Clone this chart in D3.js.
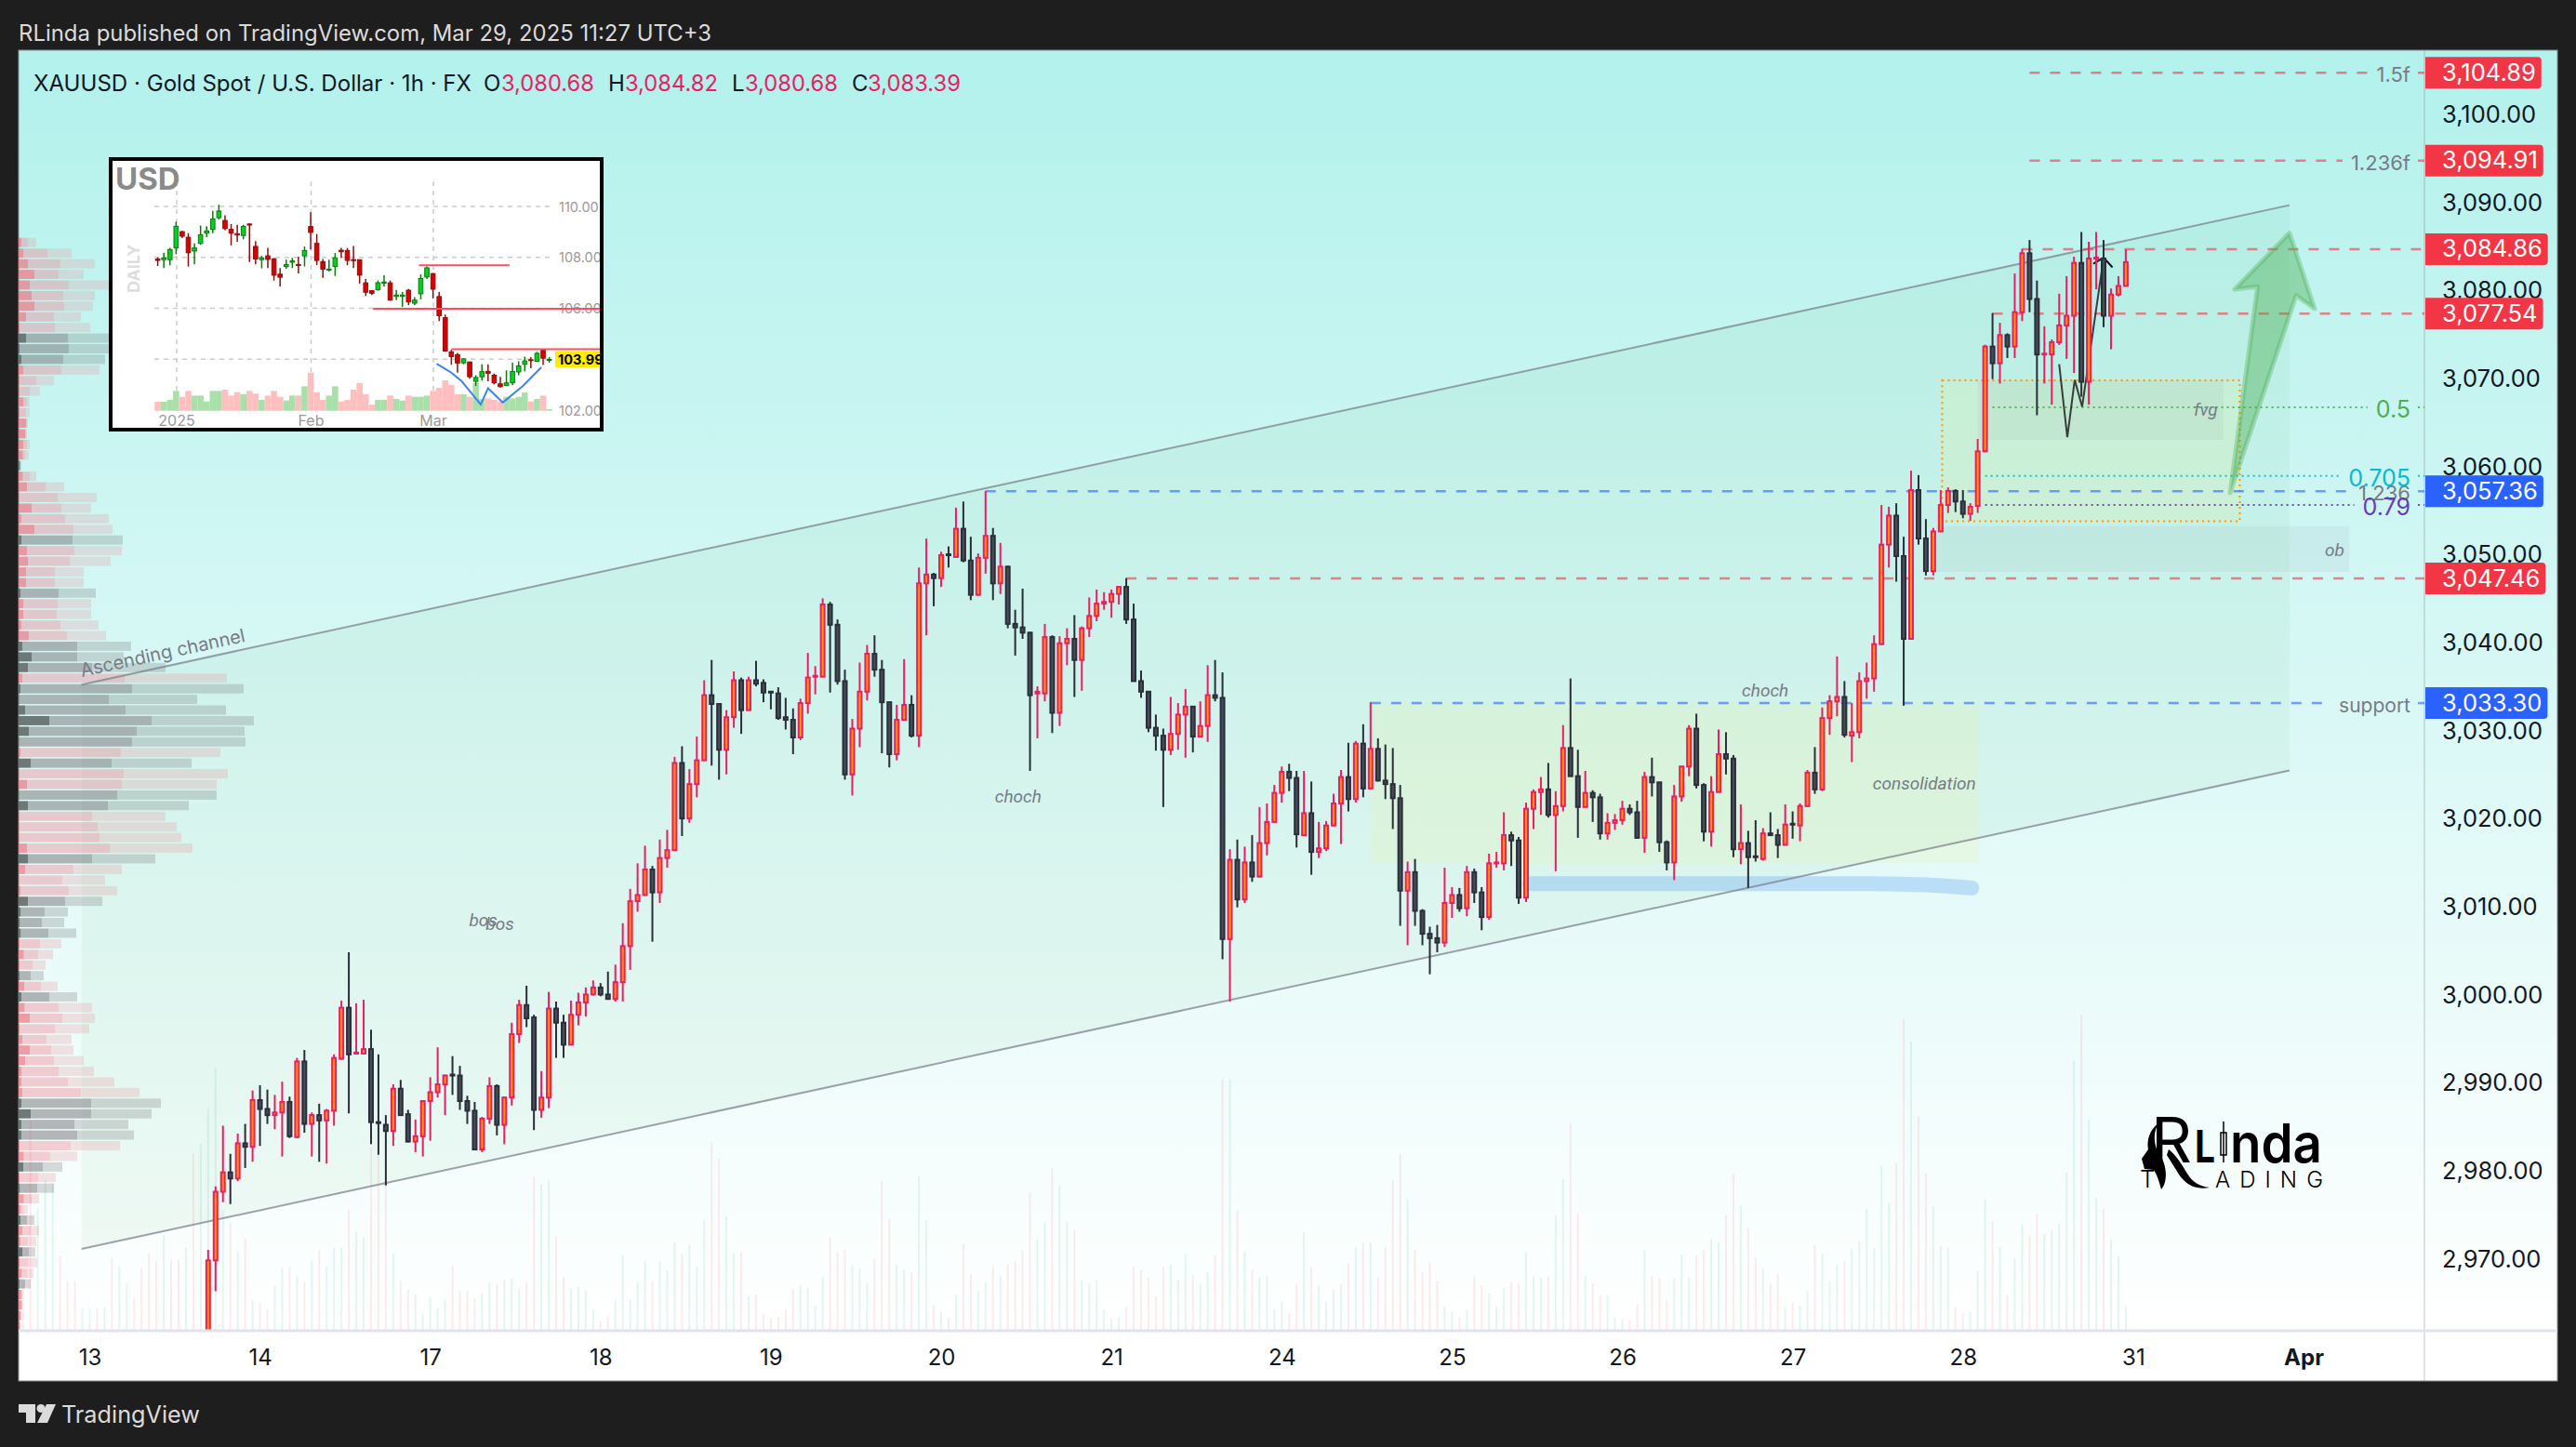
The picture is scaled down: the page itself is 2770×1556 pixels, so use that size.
<!DOCTYPE html>
<html>
<head>
<meta charset="utf-8">
<title>XAUUSD 1h</title>
<script src="https://cdn.jsdelivr.net/npm/d3@7/dist/d3.min.js"></script>
<style>
html, body { margin: 0; padding: 0; background: #1e1e1e; }
svg { display: block; }
text { font-family: Inter, "Noto Sans", sans-serif; }
.note { font-family: Roboto, sans-serif; font-style: italic; fill: #787b86; }
</style>
</head>
<body>
<div id="chart"></div>
<script>
// open, high, low, close of every hourly bar, first bar opens below the visible range
const candles = [
[2955,2971.2,2950,2970],[2970,2978.4,2966.5,2977.8],[2977.8,2985.3,2976.6,2980],[2980,2982.1,2976.4,2979.3],[2979.3,2984.4,2979,2983.3],
[2983.3,2985.5,2980.5,2982.9],[2982.9,2989.3,2981.2,2988.2],[2988.2,2989.9,2983,2987.2],[2987.2,2989.4,2985.5,2986.5],[2986.5,2988.8,2984.9,2986.8],
[2986.8,2990.3,2981.8,2988],[2988,2988.6,2983.9,2984.1],[2984,2993,2983.9,2992.6],[2992.6,2993.9,2984.5,2985.5],[2985.5,2986.8,2981.8,2986.5],
[2986.5,2987.8,2981.2,2985.9],[2985.9,2987.2,2981,2987],[2987,2993.4,2985.3,2993],[2992.9,2999.5,2992.8,2998.7],[2998.7,3005,2986.7,2993.4],
[2993.5,2999.2,2993.4,2993.6],[2993.5,2999.6,2993.4,2994],[2994,2996.2,2983.2,2985.7],[2985.7,2993.4,2982,2985.6],[2985.4,2986.5,2978.5,2984.7],
[2984.7,2990,2983,2989.5],[2989.5,2990.5,2986.5,2986.5],[2986.6,2987.1,2983.4,2983.5],[2983.5,2986,2982.3,2984.1],[2984.1,2988.1,2981.8,2988.1],
[2988.1,2990.8,2983.6,2989.1],[2989.1,2994.2,2988.5,2990],[2990,2991.1,2986.5,2991],[2991.1,2993.2,2988.8,2991],[2991,2992.1,2987.1,2988.1],
[2988.1,2988.7,2985.5,2987],[2987,2988,2982.5,2982.6],[2982.6,2986.3,2982.3,2986.1],[2986.1,2990.8,2985.5,2989.8],[2989.8,2990,2984.2,2985.4],
[2985.4,2988.6,2983.2,2988.5],[2988.5,2997,2987.6,2995.7],[2995.7,2999.6,2994.7,2999],[2999,3001.2,2996.5,2997.5],[2997.6,2997.9,2984.8,2987.1],
[2987.1,2991.5,2986.2,2988.5],[2988.5,3000.5,2987.3,2998.6],[2998.6,2999.4,2993,2997],[2997,2997.9,2993,2994.5],[2994.5,2999.5,2994.5,2997.9],
[2997.9,3000.4,2996.7,2999.3],[2999.3,3001,2997.7,3000.2],[3000.2,3001.8,3000.1,3001],[3001,3001.5,3000,3000.2],[3000.2,3002.8,2999.6,2999.7],
[2999.7,3003.6,2999.4,3001.6],[3001.6,3008.3,2999.4,3005.7],[3005.7,3012.2,3003,3010.8],[3010.8,3015.1,3009.6,3011.5],[3011.5,3017.1,3011.4,3014.4],
[3014.4,3014.8,3006.2,3011.8],[3011.8,3017.8,3010.6,3015.7],[3015.7,3018.9,3014.6,3016.6],[3016.6,3027.2,3016.5,3026.5],[3026.5,3028.4,3018.2,3020.2],
[3020.2,3025.8,3019.7,3024.1],[3024.1,3029.5,3022.6,3026.8],[3026.8,3035.9,3026.8,3034.2],[3034.2,3038.2,3026.2,3033.2],[3033.2,3033.2,3024.6,3028],
[3028,3032.5,3025.2,3031.7],[3031.7,3036.9,3030.5,3035.9],[3035.9,3036.2,3029.8,3032.5],[3032.5,3036.3,3032.5,3035.9],[3035.9,3038.1,3035.2,3035.5],
[3035.6,3036,3033.4,3034.5],[3034.6,3034.6,3032.6,3034.5],[3034.4,3035.1,3031.4,3031.6],[3031.7,3033.9,3030.3,3031.4],[3031.4,3032.7,3027.5,3029.4],
[3029.4,3033.8,3029.1,3033.3],[3033.3,3039,3032.1,3036.2],[3036.3,3037.5,3034.3,3036.4],[3036.3,3045.2,3036.3,3044.5],[3044.5,3044.8,3034.5,3042.2],
[3042.2,3042.8,3035.4,3035.8],[3035.8,3037.1,3024.6,3025.2],[3025.2,3031.5,3022.8,3030.4],[3030.4,3037.9,3028.3,3034.6],[3034.6,3039.9,3033.6,3038.9],
[3038.9,3041,3036.3,3037.1],[3037.1,3038.2,3027.6,3033.4],[3033.4,3033.4,3026,3027.5],[3027.5,3033.1,3026.8,3031.4],[3031.4,3038.3,3031.4,3033.1],
[3033.1,3034.2,3029.4,3029.6],[3029.6,3048.7,3028.3,3046.9],[3046.9,3052,3041,3047.9],[3047.9,3048.1,3044.3,3047.5],[3047.5,3050.5,3046.5,3050.1],
[3050.2,3051.1,3048.7,3050.1],[3049.9,3055.5,3049.9,3053.1],[3053.1,3056.2,3049.3,3049.5],[3049.5,3052.2,3045,3045.6],[3045.6,3050.3,3045.5,3049.8],
[3049.8,3057.4,3048,3052.3],[3052.3,3053.2,3045,3046.9],[3046.9,3051.5,3045.7,3048.8],[3048.8,3048.9,3041.8,3042.3],[3042.3,3043.9,3038.7,3041.9],
[3041.9,3046.3,3040.6,3041.3],[3041.3,3041.4,3025.6,3034.2],[3034.4,3035.2,3029.3,3034.6],[3034.4,3042.3,3033.5,3040.8],[3040.8,3041,3029.9,3032.2],
[3032.2,3040.9,3030.7,3040.1],[3040.1,3041.8,3037.6,3040.6],[3040.6,3043.3,3034,3038.2],[3038.2,3042,3034.7,3041.8],[3041.8,3045.3,3040.8,3043.2],
[3043.2,3046.2,3042.6,3044.6],[3044.6,3045.9,3043.9,3044.8],[3044.8,3046.2,3043,3045.7],[3045.7,3046.6,3044.5,3046.5],[3046.5,3047.5,3042.3,3042.8],
[3042.8,3044.6,3035.8,3035.8],[3035.8,3037,3033.9,3034.6],[3034.6,3034.6,3030,3030.5],[3030.5,3032,3027.9,3029.6],[3029.6,3030.4,3021.5,3028],
[3028,3034,3027.4,3029.8],[3029.8,3033.3,3028,3032],[3032,3034.9,3027.1,3032.9],[3032.9,3032.9,3027.7,3029.5],[3029.5,3033.5,3029.5,3030.7],
[3030.7,3037.6,3028.9,3034.2],[3034.2,3038.2,3033.5,3033.9],[3033.9,3036.8,3004.2,3006.5],[3006.5,3016.7,2999.4,3015.5],[3015.5,3017.8,3010.1,3011],
[3011,3017,3010.6,3015.2],[3015.2,3018.3,3013,3013.6],[3013.6,3021.5,3013.5,3017.4],[3017.4,3021.9,3016,3019.8],[3019.8,3024,3019.8,3023.1],
[3023.1,3026.1,3022,3025.5],[3025.5,3026.4,3023.3,3024.8],[3024.8,3025.6,3016.9,3018.4],[3018.3,3025.6,3018.2,3020.8],[3020.8,3024.4,3013.8,3016.4],
[3016.4,3019.8,3015.7,3016.8],[3016.8,3019.9,3016.5,3019.4],[3019.4,3023,3019.3,3021.9],[3021.9,3025.7,3017.3,3024.9],[3024.9,3028.8,3021,3022.4],
[3022.4,3029,3022,3028.7],[3028.7,3030.9,3022.6,3023.6],[3023.6,3033.4,3023.6,3028.1],[3028.1,3029.3,3024.4,3024.5],[3024.5,3028.6,3022.4,3024.1],
[3024.1,3028.2,3019,3022.5],[3022.5,3024,3008,3012],[3012,3015.3,3005.8,3014.1],[3014.1,3015.6,3008,3009.7],[3009.7,3009.9,3005.8,3007.1],
[3007.1,3007.9,3002.5,3006.6],[3006.6,3008.1,3005,3006.1],[3006.1,3014.6,3005.6,3010.6],[3010.6,3012.4,3008.9,3011.5],[3011.5,3012.3,3009.6,3010],
[3010,3014.8,3009.1,3014.1],[3014.1,3014.5,3010.6,3011.8],[3011.8,3012.4,3007.5,3009],[3009,3016.2,3008.7,3015.1],[3015.1,3016.4,3014.6,3015.2],
[3015.1,3020.9,3014.3,3018.3],[3018.3,3018.7,3014.8,3017.7],[3017.7,3018.1,3010.5,3011.2],[3011.2,3022,3010.7,3021.3],[3021.3,3023.5,3019,3023.2],
[3023.2,3024.9,3020.6,3023.5],[3023.5,3026.5,3020.3,3020.6],[3020.6,3023.3,3014.2,3021.6],[3021.6,3030.8,3021,3028.2],[3028.2,3036.1,3025,3025],
[3025,3028,3018,3021.5],[3021.5,3025.6,3021.5,3023.1],[3023.1,3023.4,3019.8,3022.6],[3022.6,3023,3017.8,3018.5],[3018.5,3020.8,3017.8,3019.7],
[3019.7,3020.7,3018.9,3020],[3020,3022.2,3019.5,3021.3],[3021.3,3021.8,3020.6,3020.9],[3020.9,3022.2,3017.9,3018],[3018,3025.5,3016.3,3024.9],
[3024.9,3027.1,3022.7,3024.3],[3024.3,3024.3,3016.4,3017.5],[3017.5,3017.7,3014.3,3015.2],[3015.2,3024,3013.2,3022.7],[3022.7,3026.1,3022.1,3026.1],
[3026.1,3030.8,3025,3030.4],[3030.4,3032.1,3023.6,3024],[3024,3024.2,3017.6,3018.7],[3018.7,3025,3017,3023.2],[3023.2,3030.3,3023.2,3027.5],
[3027.5,3030,3025.2,3027],[3027,3027.4,3015.8,3016.7],[3016.7,3021.8,3015,3017.4],[3017.4,3018.8,3012.3,3015.8],[3015.9,3020,3015.3,3015.8],
[3015.6,3019.1,3015.4,3018.5],[3018.5,3020.9,3018.2,3018.3],[3018.3,3019,3015.7,3017.2],[3017.2,3021.8,3017.2,3019.5],[3019.6,3021,3017.9,3019.5],
[3019.4,3021.9,3017.6,3021.6],[3021.6,3025.7,3021.6,3025.4],[3025.4,3028.3,3023,3023.5],[3023.5,3032.8,3023.3,3031.6],[3031.6,3034.2,3029.7,3033.5],
[3033.5,3038.6,3031.8,3034],[3034,3035.8,3029.4,3029.7],[3029.6,3033.3,3026.6,3030],[3030,3036.8,3029.3,3035.8],[3035.8,3037.9,3033.8,3036.1],
[3036.1,3041,3034.6,3040],[3040,3055.8,3039.9,3051.3],[3051.3,3055.6,3048.7,3054.6],[3054.6,3056,3047.1,3050],[3050,3052.2,3033,3040.6],
[3040.6,3059.7,3040.6,3057.5],[3057.5,3059.2,3051.3,3052],[3052,3054.2,3047.8,3048.3],[3048.3,3053.2,3047.8,3052.8],[3052.8,3057.5,3052.8,3055.8],
[3055.8,3057.8,3054.9,3057.4],[3057.4,3057.6,3055,3056.2],[3056.2,3057.5,3054.3,3054.8],[3054.8,3056,3054,3055.6],[3055.7,3063.3,3054.9,3061.9],
[3061.9,3074,3061.8,3073.8],[3073.8,3077.6,3070.1,3071.9],[3071.9,3076.5,3069.6,3075.1],[3075.1,3075.3,3072.5,3073.8],[3073.8,3082.1,3072.5,3077.7],
[3077.7,3084.9,3076.7,3084.4],[3084.4,3085.9,3077.7,3079.2],[3079.2,3081.3,3066,3072.9],[3072.9,3076.1,3069.6,3073],[3072.9,3074.6,3067.2,3074.3],
[3074.3,3079.8,3074,3076.2],[3076.2,3081.8,3072.4,3077.3],[3077.3,3084,3070.8,3083.3],[3083.3,3086.8,3068.1,3069.8],[3069.8,3085.7,3067.2,3083.8],
[3083.8,3086.8,3080.3,3083.9],[3083.8,3085.9,3076,3077.3],[3077.3,3080.4,3073.5,3079.7],[3079.7,3081.8,3079.5,3080.68],[3080.68,3084.82,3080.68,3083.39]
];

// volume per bar, starts 25 bars before the first candle
const volumes = [
52,226,131,162,158,80,53,53,24,23,24,25,78,69,50,35,67,83,75,102,75,76,89,190,201,
238,282,128,116,84,99,32,30,23,48,67,68,59,52,75,86,69,89,89,130,106,100,196,189,158,
83,54,44,39,18,36,24,33,70,43,43,35,40,52,49,54,56,45,52,166,157,162,101,57,45,
47,43,23,10,14,33,81,33,52,74,52,75,64,95,82,92,68,118,202,185,123,83,84,37,39,
18,12,15,22,44,49,45,27,58,100,84,87,70,67,51,77,161,120,71,65,62,166,119,27,20,
13,38,93,61,43,52,70,59,71,75,86,148,98,116,174,156,116,108,54,51,54,22,12,15,25,
69,65,57,37,68,71,55,83,60,51,62,81,270,270,129,84,65,57,59,23,31,19,49,105,68,
48,30,44,49,72,89,95,95,57,89,161,190,141,87,63,73,53,26,20,14,22,58,48,40,26,
46,52,50,84,58,57,58,124,163,222,126,59,51,37,38,14,12,11,28,86,59,56,33,56,81,
57,80,87,98,94,124,168,134,110,78,66,51,61,24,30,27,42,92,83,53,71,74,88,96,131,
89,177,137,180,335,311,230,169,133,91,89,25,19,20,64,141,117,90,38,78,114,101,125,104,108,
115,170,290,340,226,143,131,97,80,26
];
// 1 = teal, 0 = pink, for the 25 bars that have no candle on screen
const earlyVolumeUp = [0,0,1,1,1,0,0,0,1,1,0,1,0,1,1,0,0,0,0,1,0,0,1,0,1];

// visible range volume profile, top row first: inner, middle and outer edge of each row
const profileRows = [
[3,10,19],[5,31,57],[10,45,82],[17,43,70],[12,54,98],[14,48,82],[17,49,80],[8,38,67],[1,39,77],[8,53,98],
[1,54,98],[3,48,93],[5,46,87],[1,19,38],[1,12,23],[5,9,12],[1,8,12],[8,9,10],[7,8,9],[5,9,12],
[4.5,7,11],[1,2,3],[4.5,12,19],[9,29,49],[0.5,42,84],[14,46,78],[3,50,97],[17,59,101],[3,58,112],[9,60,111],
[10,55,99],[8,39,70],[8,39,70],[2,43,83],[5,42,78],[5,41,78],[3,45,86],[11,52,94],[4,63,121],[14,63,113],
[10,79,158],[4,114,224],[2,122,242],[0.5,97,192],[7,115,223],[33,143,253],[11,127,243],[0.5,122,244],[2,110,217],[13,100,186],
[0.5,113,225],[9,111,213],[0.5,106,213],[10,96,183],[0.5,79,158],[0.5,85,170],[0.5,87,175],[9,98,187],[10,79,147],[7,59,111],
[0.5,47,93],[2,54,106],[10,50,90],[2.4,28,53],[1.4,25,49],[2.4,32,62],[1,23,46],[5.5,21,37],[1,15,29],[1,13,27],
[6,24,42],[3,33,63],[6.5,43,79],[12,47,82],[1,39,76],[4,30,57],[12,35,59],[7,38,70],[3,43,81],[3,53,103],
[4,67,130],[3,78,153],[13,78,143],[3,60,118],[3,63,124],[1,56,109],[5.5,34,63],[5,26,47],[1,21,40],[1.5,20,38],
[5.5,14,22],[2,5.5,10],[2,9,17],[4,13,22],[2,10,19],[4,11,18],[1.5,10.6,20],[3,9.6,16],[1,7,13],[3,3.5,4.5],
[3.5,3.7,4],[2.5,2.6,3],[1.5,1.6,2]
];
const profileGrayRows = [9,10,11,21,28,33,38,39,40,42,43,44,45,46,47,49,52,53,58,62,63,64,65,69,71,81,82,83,84,87,89,92,95,98];

const priceTicks = [3100,3090,3080,3070,3060,3050,3040,3030,3020,3010,3000,2990,2980,2970];
const timeTicks = [-16,7,30,53,76,99,122,145,168,191,214,237,260,283];
const timeLabels = ["13","14","17","18","19","20","21","24","25","26","27","28","31","Apr"];

// price tags on the axis, 1 = blue
const tagPrices = [3104.89,3094.91,3084.86,3077.54,3057.36,3047.46,3033.30];
const tagBlue = [0,0,0,0,1,0,1];

// horizontal levels: price, first bar, kind, label
const levels = [
	[3104.89,246,"red","1.5f"],
	[3094.91,246,"red","1.236f"],
	[3084.86,245,"red",""],
	[3077.54,241,"red",""],
	[3057.36,105,"blue","1.236"],
	[3047.46,124,"red",""],
	[3033.30,157,"blue","support"],
	[3066.9,241,"green","0.5"],
	[3059.1,240,"teal","0.705"],
	[3055.8,240,"purple","0.79"]
];

// bar, price pairs of the hand drawn things
const channelUpper = [[-17.1,3035.4],[281.1,3089.86]];
const channelLower = [[-17.1,2971.3],[281.1,3025.65]];
const arrowPoints = [[273.1,3057.2],[276.8,3080.6],[273.7,3080.3],[281.1,3086.7],[284.5,3078.1],[282,3079.6]];
const zigzag = [[250,3071.8],[251.1,3063.5],[252.1,3070],[253.1,3066.97],[256,3083.9]];
const zigzagHead = [[254.6,3083.2],[256,3083.9],[257.2,3082.8]];
const brush = [[178.5,3012.8],[215,3012.8],[225,3012.8],[232,3012.7],[238.2,3012.3]];

// bar from, bar to, price top, price bottom
const boxConsolidation = [157,239.2,3033.4,3015.1];
const boxZone = [234.2,274.4,3069.95,3053.95];
const boxFvg = [239,272.2,3069.95,3063.2];
const boxOb = [233.4,289.2,3053.4,3048.2];

const noteLabels = [
	["bos",37.15,3008],["bos",39.4,3007.5],["choch",109.4,3022],["choch",210.3,3034.05],
	["consolidation",231.8,3023.45],["fvg",269.8,3065.95],["ob",287.2,3049.95]
];

// small USD chart in the corner: open, high, low, close
const usdCandles = [
[107.93,108.00,107.66,107.88],[107.91,108.18,107.58,107.98],[107.91,108.37,107.69,108.31],[108.37,109.40,108.12,109.22],[109.01,109.04,108.76,108.83],
[108.79,108.95,107.64,108.18],[108.25,108.55,107.73,108.37],[108.55,109.25,108.49,108.89],[108.95,109.22,108.79,109.04],[109.10,109.83,108.95,109.51],
[109.56,110.07,109.49,109.82],[109.45,109.65,109.07,109.13],[109.10,109.31,108.47,108.95],[108.93,109.28,108.61,108.88],[108.86,109.28,108.71,109.22],
[109.31,109.34,107.82,109.27],[108.43,108.64,107.73,107.94],[107.91,108.06,107.57,107.98],[108.06,108.37,107.58,107.92],[107.94,107.98,107.09,107.30],
[107.34,107.58,106.85,107.22],[107.64,107.91,107.55,107.72],[107.81,107.98,107.58,107.86],[107.72,108.03,107.37,107.69],[108.06,108.43,107.64,108.27],
[109.21,109.77,108.31,108.98],[108.55,108.92,107.70,107.88],[107.83,107.94,107.20,107.54],[107.50,107.91,107.45,107.54],[107.64,108.17,107.27,107.98],
[108.28,108.37,107.98,108.22],[108.27,108.37,107.69,107.88],[107.91,108.45,107.58,107.88],[107.91,107.91,106.97,107.30],[107.00,107.15,106.48,106.63],
[106.69,106.69,106.52,106.59],[106.73,107.09,106.69,107.00],[106.99,107.30,106.85,107.03],[107.00,107.09,106.30,106.32],[106.47,106.72,106.32,106.52],
[106.47,106.64,106.05,106.52],[106.71,106.76,106.12,106.25],[106.20,106.44,106.13,106.32],[106.57,107.33,106.35,107.17],[107.23,107.64,107.15,107.59],
[107.36,107.39,106.39,106.75],[106.46,106.64,105.50,105.71],[105.63,105.75,104.29,104.32],[104.29,104.37,103.78,104.10],[104.18,104.25,103.47,103.85],
[103.86,104.04,103.80,104.01],[103.89,103.91,103.23,103.31],[103.13,103.37,102.95,103.28],[103.31,103.80,103.16,103.51],[103.52,103.80,103.13,103.45],
[103.37,103.44,103.01,103.07],[103.03,103.31,102.89,102.92],[102.97,103.56,102.95,103.07],[103.07,103.86,102.98,103.52],[103.50,103.92,103.37,103.74],
[103.80,104.10,103.52,103.93],[103.98,104.08,103.64,103.96],[103.92,104.29,103.89,104.23],[104.35,104.37,103.77,104.04],[103.97,104.08,103.86,103.99]
];
const usdVolumes = [29,29,35,64,45,64,49,49,30,64,64,68,49,60,53,64,55,35,49,64,45,33,49,49,79,123,60,35,49,79,30,35,68,89,53,20,35,35,49,38,33,49,45,45,49,64,74,98,83,53,53,45,89,38,40,35,30,45,40,45,59,30,38,49,5];
const usdTicks = [110,108,106,104,102];
const usdMonthBars = [3.1,25.07,45.07];
const usdMonthLabels = ["2025","Feb","Mar"];
const usdResistance = [[42.7,107.69],[35.2,105.98],[48,104.39]];
const usdDoubleBottom = [[45.6,103.82],[48,103.47],[49.7,103.13],[52.8,102.22],[54,102.86],[56.4,102.30],[59.7,102.95],[62.7,103.68]];

const width = 2770, height = 1556;
const svg = d3.select("#chart").append("svg").attr("width", width).attr("height", height);
const defs = svg.append("defs");

const bg = defs.append("linearGradient").attr("id", "bg").attr("x1", 0).attr("y1", 0).attr("x2", 0).attr("y2", 1);
bg.append("stop").attr("offset", 0).attr("stop-color", "#b2f1ec");
bg.append("stop").attr("offset", 1).attr("stop-color", "#ffffff");
defs.append("clipPath").attr("id", "plot").append("rect").attr("x", 20).attr("y", 54).attr("width", 2587).attr("height", 1376.6);

const x = d3.scaleLinear().domain([-25.6, 299.33]).range([20, 2607]);
const y = d3.scaleLinear().domain([3107.46, 2962.05]).range([54, 1430.6]);
const volY = d3.scaleLinear().domain([0, 100]).range([1430.6, 1330.6]);
const profX = d3.scaleLinear().domain([0, 253]).range([20, 273]);
const profY = d3.scaleBand().domain(d3.range(profileRows.length)).range([254.3, 1432.7]).padding(0.13);
const path = d3.line().x(d => x(d[0])).y(d => y(d[1]));

// frame
svg.append("rect").attr("x", 20).attr("y", 54).attr("width", 2730).attr("height", 1377).attr("fill", "url(#bg)");
svg.append("rect").attr("x", 20).attr("y", 1431).attr("width", 2730).attr("height", 54).attr("fill", "#fff");
svg.append("rect").attr("x", 20).attr("y", 54).attr("width", 2730).attr("height", 1431).attr("fill", "none").attr("stroke", "#8a8f8f").attr("stroke-width", 1);

const plot = svg.append("g").attr("clip-path", "url(#plot)");

// channel fill and borders
plot.append("path")
	.attr("d", path(channelUpper.concat(channelLower.slice().reverse())) + "Z")
	.attr("fill", "rgba(76,175,80,0.06)");

function drawBox(b, fill){
	return plot.append("rect")
		.attr("x", x(b[0])).attr("y", y(b[2]))
		.attr("width", x(b[1]) - x(b[0])).attr("height", y(b[3]) - y(b[2]))
		.attr("fill", fill);
}
drawBox(boxConsolidation, "rgba(255,240,100,0.12)");
drawBox(boxZone, "rgba(255,240,100,0.13)").attr("stroke", "#ff9800").attr("stroke-width", 2).attr("stroke-dasharray", "2 4");
drawBox(boxFvg, "rgba(120,123,134,0.08)");
drawBox(boxOb, "rgba(120,123,134,0.08)");

// volume profile
profileRows.forEach(function(r, k){
	const gray = profileGrayRows.indexOf(k) >= 0;
	const fills = gray
		? ["rgba(96,106,105,0.9)", "rgba(135,135,138,0.6)", "rgba(133,133,133,0.3)"]
		: ["rgba(238,115,130,0.7)", "rgba(240,130,145,0.4)", "rgba(235,155,160,0.28)"];
	[0, r[0], r[1]].forEach(function(from, j){
		plot.append("rect")
			.attr("x", profX(from)).attr("y", profY(k))
			.attr("width", profX(r[j]) - profX(from)).attr("height", profY.bandwidth())
			.attr("fill", fills[j]);
	});
});

// volume bars
plot.selectAll("rect.vol").data(volumes).enter().append("rect")
	.attr("class", "vol")
	.attr("x", (d, i) => x(i - 25) - 1)
	.attr("y", d => volY(d))
	.attr("width", 2)
	.attr("height", d => volY(0) - volY(d))
	.attr("fill", function(d, i){
		const up = i < 25 ? earlyVolumeUp[i] : candles[i - 25][3] >= candles[i - 25][0];
		return up ? "rgba(8,153,129,0.1)" : "rgba(242,54,69,0.1)";
	});

// brush under the consolidation
plot.append("path").attr("d", d3.line().x(d => x(d[0])).y(d => y(d[1])).curve(d3.curveBasis)(brush))
	.attr("fill", "none").attr("stroke", "rgba(90,160,245,0.3)").attr("stroke-width", 16).attr("stroke-linecap", "round");

plot.append("path").attr("d", path(channelUpper)).attr("fill", "none").attr("stroke", "#787b86").attr("stroke-opacity", 0.7).attr("stroke-width", 2);
plot.append("path").attr("d", path(channelLower)).attr("fill", "none").attr("stroke", "#787b86").attr("stroke-opacity", 0.7).attr("stroke-width", 2);

// levels with their labels, the line stops around the label
const levelStyle = {
	red: {stroke: "rgba(242,54,69,0.6)", text: "#787b86", dash: "11 11"},
	blue: {stroke: "rgba(41,98,255,0.6)", text: "#787b86", dash: "11 11"},
	green: {stroke: "rgba(76,175,80,0.9)", text: "#4caf50", dash: "2 4"},
	teal: {stroke: "rgba(0,188,212,0.9)", text: "#00bcd4", dash: "2 4"},
	purple: {stroke: "rgba(103,58,183,0.9)", text: "#673ab7", dash: "2 4"}
};
levels.forEach(function(l){
	const st = levelStyle[l[2]];
	const yy = y(l[0]);
	const lw = st.dash == "2 4" ? 2 : 2.5;
	let stop = 2607;
	if(l[3]){
		const big = l[2] != "red" && l[2] != "blue";
		const t = plot.append("text").text(l[3])
			.attr("x", 2592).attr("y", yy + 2)
			.attr("text-anchor", "end").attr("dominant-baseline", "central")
			.attr("font-size", big ? 25 : (l[3] == "support" ? 21 : 22)).attr("fill", st.text);
		stop = 2592 - t.node().getComputedTextLength() - 9;
		plot.append("line").attr("x1", 2600).attr("x2", 2607).attr("y1", yy).attr("y2", yy)
			.attr("stroke", st.stroke).attr("stroke-width", lw).attr("stroke-dasharray", st.dash);
	}
	plot.append("line").attr("x1", x(l[1])).attr("x2", stop).attr("y1", yy).attr("y2", yy)
		.attr("stroke", st.stroke).attr("stroke-width", lw).attr("stroke-dasharray", st.dash);
});

// green arrow and the drawn zigzag
plot.append("path").attr("d", path(arrowPoints) + "Z")
	.attr("fill", "rgba(76,175,80,0.42)").attr("stroke", "rgba(76,175,80,0.35)")
	.attr("stroke-width", 5).attr("stroke-linejoin", "round");
plot.append("path").attr("d", path(zigzag)).attr("fill", "none").attr("stroke", "rgba(20,20,20,0.8)").attr("stroke-width", 2);
plot.append("path").attr("d", path(zigzagHead)).attr("fill", "none").attr("stroke", "#111").attr("stroke-width", 2);

// notes
plot.selectAll("text.note").data(noteLabels).enter().append("text")
	.attr("class", "note")
	.attr("x", d => x(d[1])).attr("y", d => y(d[2]))
	.attr("text-anchor", "middle").attr("font-size", 19)
	.text(d => d[0]);
plot.append("text").text("Ascending channel")
	.attr("transform", "translate(88,728) rotate(-12.2)")
	.attr("font-size", 20).attr("fill", "#787b86");

// candles
const bars = plot.selectAll("g.bar").data(candles).enter().append("g").attr("class", "bar");
bars.append("line")
	.attr("x1", (d, i) => x(i)).attr("x2", (d, i) => x(i))
	.attr("y1", d => y(d[1])).attr("y2", d => y(d[2]))
	.attr("stroke", d => d[3] >= d[0] ? "#e91e63" : "#2a2e39").attr("stroke-width", 2);
bars.append("rect")
	.attr("x", (d, i) => x(i) - 2)
	.attr("y", d => y(Math.max(d[0], d[3])))
	.attr("width", 4)
	.attr("height", d => Math.max(1, y(Math.min(d[0], d[3])) - y(Math.max(d[0], d[3]))))
	.attr("fill", d => d[3] >= d[0] ? "#ff9800" : "#4a4e5a")
	.attr("stroke", d => d[3] >= d[0] ? "#e91e63" : "#2a2e39").attr("stroke-width", 2);

// price axis
svg.append("line").attr("x1", 2607).attr("x2", 2607).attr("y1", 54).attr("y2", 1485).attr("stroke", "rgba(120,123,134,0.22)").attr("stroke-width", 2);
svg.append("line").attr("x1", 20).attr("x2", 2750).attr("y1", 1431).attr("y2", 1431).attr("stroke", "#e0e3eb").attr("stroke-width", 3);

const priceAxis = d3.axisRight(y).tickValues(priceTicks).tickSize(0).tickPadding(19).tickFormat(d3.format(",.2f"));
const pa = svg.append("g").attr("transform", "translate(2607,0)").call(priceAxis);
pa.select(".domain").remove();
pa.selectAll("text").attr("font-family", "Inter").attr("font-size", 25.5).attr("fill", "#131722").attr("dy", "0.27em");

const timeAxis = d3.axisBottom(x).tickValues(timeTicks).tickSize(0).tickPadding(20).tickFormat((d, i) => timeLabels[i]);
const ta = svg.append("g").attr("transform", "translate(0,1431)").call(timeAxis);
ta.select(".domain").remove();
ta.selectAll("text").attr("font-family", "Inter").attr("font-size", 24).attr("fill", "#131722")
	.attr("font-weight", (d, i) => timeLabels[i] == "Apr" ? 700 : 400);

// tags
tagPrices.forEach(function(p, i){
	const tag = svg.append("g");
	const r = tag.append("path");
	const t = tag.append("text").text(d3.format(",.2f")(p))
		.attr("x", 2626).attr("y", y(p) - 1).attr("dominant-baseline", "central")
		.attr("font-size", 25.5).attr("fill", "#fff");
	const w = 2626 + t.node().getComputedTextLength() + 6;
	const top = y(p) - 17, bot = y(p) + 17;
	r.attr("d", "M2608," + top + "H" + (w - 4) + "Q" + w + "," + top + " " + w + "," + (top + 4) +
		"V" + (bot - 4) + "Q" + w + "," + bot + " " + (w - 4) + "," + bot + "H2608Z")
		.attr("fill", tagBlue[i] ? "#2962ff" : "#f23645");
});

// header and legend
svg.append("text").text("RLinda published on TradingView.com, Mar 29, 2025 11:27 UTC+3")
	.attr("x", 20).attr("y", 44).attr("font-size", 24).attr("fill", "#dbdbdb")
	.attr("textLength", 745).attr("lengthAdjust", "spacingAndGlyphs");
svg.append("text").text("XAUUSD · Gold Spot / U.S. Dollar · 1h · FX")
	.attr("x", 36).attr("y", 98).attr("font-size", 24).attr("fill", "#131722")
	.attr("textLength", 471).attr("lengthAdjust", "spacingAndGlyphs");
[["O", 520, "3,080.68", 539], ["H", 654, "3,084.82", 672], ["L", 787, "3,080.68", 801], ["C", 916, "3,083.39", 933]].forEach(function(o){
	svg.append("text").text(o[0]).attr("x", o[1]).attr("y", 98).attr("font-size", 24).attr("fill", "#131722");
	svg.append("text").text(o[2]).attr("x", o[3]).attr("y", 98).attr("font-size", 24).attr("fill", "#e91e63")
		.attr("textLength", 100).attr("lengthAdjust", "spacingAndGlyphs");
});

// footer logo
const tvLogo = svg.append("g").attr("fill", "#dbdbdb");
tvLogo.append("path").attr("d", "M20,1510H38V1530H28V1519H20Z");
tvLogo.append("circle").attr("cx", 44).attr("cy", 1514.5).attr("r", 4.5);
tvLogo.append("path").attr("d", "M50,1510H60L51,1530H40Z");
svg.append("text").text("TradingView").attr("x", 66).attr("y", 1530).attr("font-size", 25).attr("fill", "#dbdbdb")
	.attr("textLength", 149).attr("lengthAdjust", "spacingAndGlyphs");

// RLinda logo
const logo = svg.append("g").attr("fill", "#000");
logo.append("text").text("R").attr("x", 2313).attr("y", 1250).attr("font-family", "Liberation Serif").attr("font-size", 68)
	.attr("textLength", 44).attr("lengthAdjust", "spacingAndGlyphs");
logo.append("text").text("L").attr("x", 2360).attr("y", 1250).attr("font-size", 48).attr("font-weight", 700)
	.attr("textLength", 22).attr("lengthAdjust", "spacingAndGlyphs");
logo.append("text").text("nda").attr("x", 2398).attr("y", 1250).attr("font-size", 58).attr("font-weight", 600)
	.attr("textLength", 99).attr("lengthAdjust", "spacingAndGlyphs");
logo.append("rect").attr("x", 2388).attr("y", 1218).attr("width", 6).attr("height", 24).attr("fill", "#fff").attr("stroke", "#000").attr("stroke-width", 1.5);
logo.append("line").attr("x1", 2391).attr("x2", 2391).attr("y1", 1206).attr("y2", 1250).attr("stroke", "#000").attr("stroke-width", 1.5);
logo.append("path").attr("d", "M2332,1236C2340,1242 2346,1252 2352,1262C2358,1272 2366,1276 2376,1277C2358,1280 2348,1272 2340,1258L2330,1242Z");
logo.append("path").attr("d", "M2322,1207C2312,1214 2308,1226 2310,1236L2303,1246L2306,1257L2316,1258C2320,1264 2322,1272 2324,1279C2332,1270 2330,1250 2320,1238C2315,1226 2316,1215 2322,1207Z");
logo.append("text").text("T").attr("x", 2301).attr("y", 1277).attr("font-size", 26).attr("font-weight", 300);
logo.append("text").text("ADING").attr("x", 2382).attr("y", 1277).attr("font-size", 24).attr("font-weight", 300)
	.attr("textLength", 116).attr("lengthAdjust", "spacing");

// inset USD chart
const inset = svg.append("g");
const ix = d3.scaleLinear().domain([0, 64]).range([169.6, 590.6]);
const iy = d3.scaleLinear().domain([110, 102]).range([222, 441]);
const iv = d3.scaleLinear().domain([0, 123]).range([441.7, 400.7]);
inset.append("rect").attr("x", 119).attr("y", 171).attr("width", 528).attr("height", 291)
	.attr("fill", "#fff").attr("stroke", "#000").attr("stroke-width", 4);
const insetClip = defs.append("clipPath").attr("id", "inset");
insetClip.append("rect").attr("x", 121).attr("y", 173).attr("width", 524).attr("height", 287);
const ig = inset.append("g").attr("clip-path", "url(#inset)");

ig.selectAll("line.h").data(usdTicks.slice(0, 4)).enter().append("line")
	.attr("x1", 166).attr("x2", 595).attr("y1", d => iy(d)).attr("y2", d => iy(d))
	.attr("stroke", "#ccc").attr("stroke-width", 1.5).attr("stroke-dasharray", "5 5");
ig.selectAll("line.v").data(usdMonthBars).enter().append("line")
	.attr("x1", d => ix(d)).attr("x2", d => ix(d)).attr("y1", 195).attr("y2", 442)
	.attr("stroke", "#ccc").attr("stroke-width", 1.5).attr("stroke-dasharray", "5 5");
ig.selectAll("rect.v").data(usdVolumes).enter().append("rect")
	.attr("x", (d, i) => ix(i) - 3.3).attr("y", d => iv(d))
	.attr("width", 6.6).attr("height", d => iv(0) - iv(d))
	.attr("fill", (d, i) => usdCandles[i][3] >= usdCandles[i][0] ? "#a9dfa9" : "#ffbfbf");
ig.selectAll("text.p").data(usdTicks).enter().append("text")
	.attr("x", 601).attr("y", d => iy(d)).attr("dominant-baseline", "central")
	.attr("font-family", "Liberation Sans").attr("font-size", 14.5).attr("fill", "#999")
	.text(d => d3.format(".2f")(d));
ig.selectAll("text.m").data(usdMonthBars).enter().append("text")
	.attr("x", d => ix(d)).attr("y", 458).attr("text-anchor", "middle")
	.attr("font-family", "Liberation Sans").attr("font-size", 16).attr("fill", "#999")
	.text((d, i) => usdMonthLabels[i]);
ig.append("text").text("USD").attr("x", 124).attr("y", 204)
	.attr("font-family", "Liberation Sans").attr("font-weight", 700).attr("font-size", 33).attr("fill", "#8a8a8a");
ig.append("text").text("DAILY").attr("transform", "translate(150,315) rotate(-90)")
	.attr("font-family", "Liberation Sans").attr("font-weight", 700).attr("font-size", 18).attr("fill", "#ddd");

const ib = ig.selectAll("g.c").data(usdCandles).enter().append("g").attr("class", "c");
ib.append("line")
	.attr("x1", (d, i) => ix(i)).attr("x2", (d, i) => ix(i))
	.attr("y1", d => iy(d[1])).attr("y2", d => iy(d[2]))
	.attr("stroke", d => d[3] >= d[0] ? "#0a7a0a" : "#8a1010").attr("stroke-width", 1.5);
ib.append("rect")
	.attr("x", (d, i) => ix(i) - 2.3)
	.attr("y", d => iy(Math.max(d[0], d[3])))
	.attr("width", 4.6)
	.attr("height", d => Math.max(1, iy(Math.min(d[0], d[3])) - iy(Math.max(d[0], d[3]))))
	.attr("fill", d => d[3] >= d[0] ? "#00d020" : "#d80000")
	.attr("stroke", d => d[3] >= d[0] ? "#0a7a0a" : "#8a1010").attr("stroke-width", 1);

ig.selectAll("line.r").data(usdResistance).enter().append("line")
	.attr("x1", d => ix(d[0])).attr("y1", d => iy(d[1]))
	.attr("x2", (d, i) => i == 0 ? ix(57.5) : 645).attr("y2", d => iy(d[1]))
	.attr("stroke", "#ff4d5a").attr("stroke-width", 2);
ig.append("path")
	.attr("d", d3.line().x(d => ix(d[0])).y(d => iy(d[1]))(usdDoubleBottom))
	.attr("fill", "none").attr("stroke", "#3b82f6").attr("stroke-width", 2);
ig.append("rect").attr("x", 597).attr("y", 378).attr("width", 50).attr("height", 17).attr("fill", "#ffee00");
ig.append("text").text("103.99").attr("x", 600).attr("y", 391.5)
	.attr("font-family", "Liberation Sans").attr("font-weight", 700).attr("font-size", 14.5).attr("fill", "#000");
</script>
</body>
</html>
